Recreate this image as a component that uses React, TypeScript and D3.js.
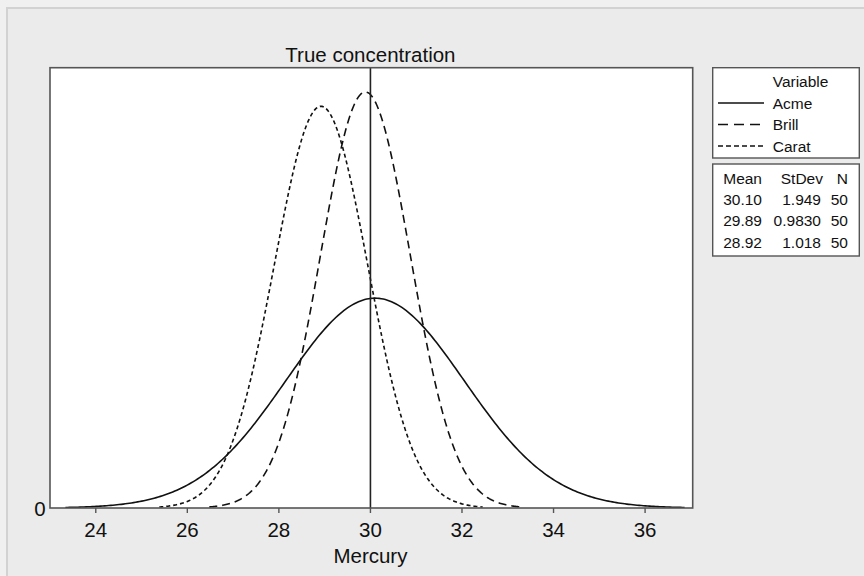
import React from "react";
import * as d3 from "d3";

const variables = ["Acme", "Brill", "Carat"];
const means = [30.1, 29.89, 28.92];
const stdevs = [1.949, 0.983, 1.018];
const counts = [50, 50, 50];
const meanLabels = ["30.10", "29.89", "28.92"];
const stdevLabels = ["1.949", "0.9830", "1.018"];
const xTicks = [24, 26, 28, 30, 32, 34, 36];
const trueConcentration = 30;
const dashes = ["", "8,5", "4,3"];
const legendDashes = ["", "10,6", "5,3"];

const W = 864;
const H = 576;
const L = 50, R = 692.7, T = 67.7, B = 508;
const FONT = "Liberation Sans, Arial, Helvetica, sans-serif";

export default function App() {
  const x = d3.scaleLinear().domain([23, 37.04]).range([L, R]);
  const y = d3.scaleLinear().domain([0, 0.4295]).range([B, T]);
  const pdf = (v: number, m: number, s: number) =>
    Math.exp(-0.5 * ((v - m) / s) ** 2) / (s * Math.sqrt(2 * Math.PI));
  const line = d3
    .line<[number, number]>()
    .x((d) => x(d[0]))
    .y((d) => y(d[1]))
    .curve(d3.curveLinear);

  const paths = variables.map((_, i) => {
    const m = means[i];
    const s = stdevs[i];
    const lo = m - 3.47 * s;
    const hi = m + 3.47 * s;
    const pts: [number, number][] = d3
      .range(0, 301)
      .map((k) => {
        const v = lo + ((hi - lo) * k) / 300;
        return [v, pdf(v, m, s)] as [number, number];
      });
    return line(pts) || "";
  });

  const lx = 712.7, lw = 146.6;
  const rowY = [81, 103, 124.5, 146];
  const tRowY = [178.5, 199, 220.5, 242];

  return (
    <div style={{ position: "fixed", left: 0, top: 0 }}>
      <svg width={W} height={H} style={{ display: "block", fontFamily: FONT }}>
        <rect x={0} y={0} width={W} height={H} fill="#f0f0f0" />
        <rect x={7} y={8} width={W + 10} height={H + 10} fill="#ebebeb" stroke="#d2d2d2" strokeWidth={2} />
        <rect x={L} y={T} width={R - L} height={B - T} fill="#ffffff" />
        <defs>
          <clipPath id="plotclip">
            <rect x={L} y={T} width={R - L} height={B - T} />
          </clipPath>
        </defs>
        <g clipPath="url(#plotclip)">
          {paths.map((p, i) => (
            <path key={i} d={p} fill="none" stroke="#111" strokeWidth={1.6} strokeDasharray={dashes[i] || undefined} />
          ))}
        </g>
        <line x1={x(trueConcentration)} x2={x(trueConcentration)} y1={T} y2={B} stroke="#222" strokeWidth={1.6} />
        <text x={x(trueConcentration)} y={62} textAnchor="middle" fontSize={20.5} fill="#111">
          True concentration
        </text>
        <rect x={L} y={T} width={R - L} height={B - T} fill="none" stroke="#555" strokeWidth={1.6} />
        {xTicks.map((t) => (
          <g key={t}>
            <line x1={x(t)} x2={x(t)} y1={B} y2={B + 5} stroke="#555" strokeWidth={1.4} />
            <text x={x(t)} y={536.5} textAnchor="middle" fontSize={20.5} fill="#111">
              {t}
            </text>
          </g>
        ))}
        <text x={40} y={515.5} textAnchor="middle" fontSize={20.5} fill="#111">
          0
        </text>
        <text x={x(30)} y={563} textAnchor="middle" fontSize={20.5} fill="#111">
          Mercury
        </text>

        <rect x={lx} y={T} width={lw} height={158 - T} fill="#ffffff" stroke="#555" strokeWidth={1.4} />
        <text x={772.7} y={rowY[0] + 5.5} fontSize={15.5} fill="#111">
          Variable
        </text>
        {variables.map((v, i) => (
          <g key={v}>
            <line x1={718} x2={764} y1={rowY[i + 1]} y2={rowY[i + 1]} stroke="#111" strokeWidth={1.6} strokeDasharray={legendDashes[i] || undefined} />
            <text x={772.7} y={rowY[i + 1] + 5.5} fontSize={15.5} fill="#111">
              {v}
            </text>
          </g>
        ))}

        <rect x={lx} y={164} width={lw} height={256 - 164} fill="#ffffff" stroke="#555" strokeWidth={1.4} />
        <text x={762} y={tRowY[0] + 5.5} textAnchor="end" fontSize={15.5} fill="#111">Mean</text>
        <text x={823} y={tRowY[0] + 5.5} textAnchor="end" fontSize={15.5} fill="#111">StDev</text>
        <text x={848} y={tRowY[0] + 5.5} textAnchor="end" fontSize={15.5} fill="#111">N</text>
        {variables.map((v, i) => (
          <g key={v}>
            <text x={762} y={tRowY[i + 1] + 5.5} textAnchor="end" fontSize={15.5} fill="#111">{meanLabels[i]}</text>
            <text x={821} y={tRowY[i + 1] + 5.5} textAnchor="end" fontSize={15.5} fill="#111">{stdevLabels[i]}</text>
            <text x={848} y={tRowY[i + 1] + 5.5} textAnchor="end" fontSize={15.5} fill="#111">{counts[i]}</text>
          </g>
        ))}
      </svg>
    </div>
  );
}
